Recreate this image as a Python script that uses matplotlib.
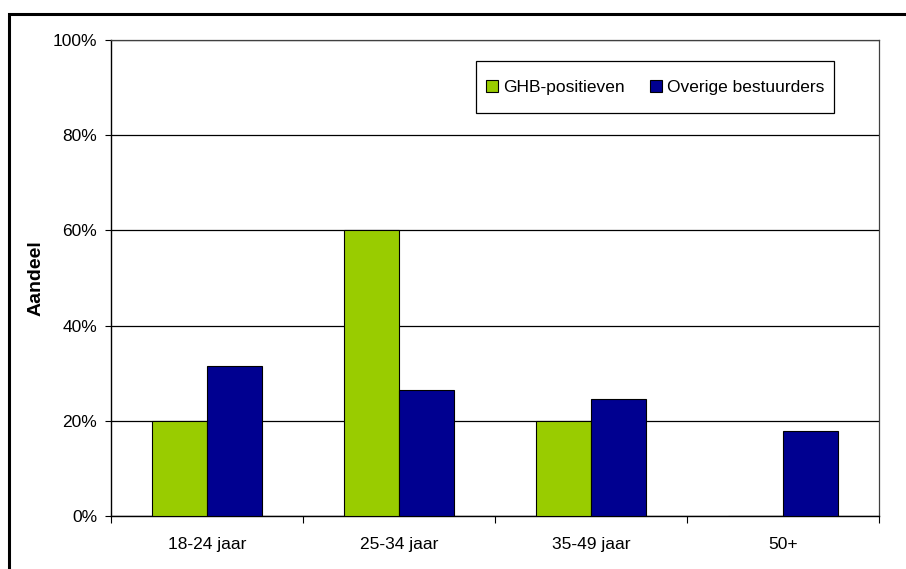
import numpy as np
import matplotlib
matplotlib.use("Agg")
import matplotlib.pyplot as plt
from matplotlib.patches import Patch, Rectangle
from matplotlib.ticker import PercentFormatter

plt.rcParams['font.family'] = ['Liberation Sans', 'DejaVu Sans']

categories = ['18-24 jaar', '25-34 jaar', '35-49 jaar', '50+']
ghb_pos = [20.0, 60.0, 20.0, 0.0]
overige = [31.6, 26.4, 24.6, 17.8]
series_names = ['GHB-positieven', 'Overige bestuurders']
y_ticks = [0, 20, 40, 60, 80, 100]

green = '#99cc00'
navy = '#000090'
fs = 12.5

fig = plt.figure(figsize=(9.06, 5.69), dpi=100)
ax = fig.add_axes([0.1225, 0.0931, 0.8477, 0.8366])

x = np.arange(len(categories))
w = 0.286
ax.bar(x - w / 2, ghb_pos, w, color=green, edgecolor='black', linewidth=0.8,
       zorder=3)
ax.bar(x + w / 2, overige, w, color=navy, edgecolor='black', linewidth=0.8,
       zorder=3)

ax.set_xlim(-0.5, len(categories) - 0.5)
ax.set_ylim(0, 100)
ax.set_yticks(y_ticks)
ax.yaxis.set_major_formatter(PercentFormatter(decimals=0))
ax.yaxis.grid(True, color='black', linewidth=0.9, zorder=0)

# tick marks between the groups, labels at group centres
ax.set_xticks(np.arange(-0.5, len(categories)))
ax.set_xticklabels([])
ax.set_xticks(x, minor=True)
ax.set_xticklabels(categories, minor=True)
ax.tick_params(axis='x', which='major', length=5, direction='out', color='black')
ax.tick_params(axis='x', which='minor', length=0, pad=15, labelsize=fs)
ax.tick_params(axis='y', length=4, direction='out', labelsize=fs, pad=6)

for side in ['left', 'bottom']:
    ax.spines[side].set_color('black')
    ax.spines[side].set_linewidth(1.0)
for side in ['top', 'right']:
    ax.spines[side].set_color('#404040')
    ax.spines[side].set_linewidth(0.9)

ax.set_ylabel('Aandeel', fontsize=14, fontweight='bold', labelpad=6)

# legend entries without a frame, box drawn separately
handles = [Patch(facecolor=c, edgecolor='black', linewidth=0.8)
           for c in (green, navy)]
leg = ax.legend(handles, series_names, loc='center',
                bbox_to_anchor=(0.7083, 0.901), ncol=2, fontsize=fs,
                frameon=False, handlelength=0.7, handleheight=0.7,
                handletextpad=0.3, columnspacing=1.45, borderpad=0,
                borderaxespad=0)
leg.set_zorder(6)
ax.add_patch(Rectangle((0.4753, 0.8466), 0.4661, 0.1093, transform=ax.transAxes,
                       facecolor='white', edgecolor='black', linewidth=0.9,
                       zorder=5))

# outer frame around the whole chart
fig.patches.append(Rectangle((8.5 / 906, -0.05), 1.2, 1 - 14 / 569 + 0.05,
                             transform=fig.transFigure, fill=False,
                             edgecolor='black', linewidth=2.2))

fig.savefig('out.png', dpi=100)
